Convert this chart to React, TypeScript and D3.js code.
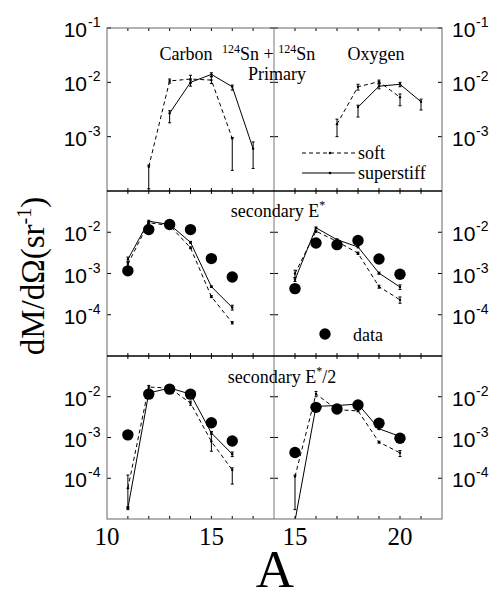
import React from 'react';
import * as d3 from 'd3';

// [A, value, errLow, errHigh]
const primCarbonSoft = [[12, 2.8e-4, 1.1e-4, 3.0e-4], [13, 1.06e-2, 0.97e-2, 1.15e-2], [14, 1.15e-2, 0.97e-2, 1.35e-2], [15, 1.1e-2, 0.95e-2, 1.27e-2], [16, 9.3e-4, 2.4e-4, 9.6e-4]];
const primCarbonStiff = [[13, 2.7e-3, 1.8e-3, 3.0e-3], [14, 1.0e-2, 0.85e-2, 1.1e-2], [15, 1.4e-2, 1.27e-2, 1.5e-2], [16, 8.3e-3, 7.2e-3, 8.9e-3], [17, 6.0e-4, 2.6e-4, 8.0e-4]];
const primOxySoft = [[17, 1.7e-3, 1.0e-3, 2.1e-3], [18, 8.3e-3, 7.2e-3, 9.2e-3], [19, 1.03e-2, 0.95e-2, 1.1e-2], [20, 5.3e-3, 3.7e-3, 6.1e-3]];
const primOxyStiff = [[18, 3.5e-3, 2.3e-3, 3.8e-3], [19, 8.5e-3, 7.6e-3, 9.3e-3], [20, 9.2e-3, 8.3e-3, 1.0e-2], [21, 4.4e-3, 3.1e-3, 4.9e-3]];

const secCarbonSoft = [[11, 1.7e-3, 1.5e-3, 1.9e-3], [12, 1.7e-2, 1.6e-2, 1.8e-2], [13, 1.46e-2, 1.4e-2, 1.52e-2], [14, 4.2e-3, 4.0e-3, 4.4e-3], [15, 2.75e-4, 2.6e-4, 2.9e-4], [16, 6.4e-5, 6.0e-5, 6.8e-5]];
const secCarbonStiff = [[11, 2.2e-3, 1.9e-3, 2.5e-3], [12, 1.85e-2, 1.75e-2, 1.95e-2], [13, 1.54e-2, 1.48e-2, 1.6e-2], [14, 5.7e-3, 5.4e-3, 6.0e-3], [15, 4.8e-4, 4.6e-4, 5.0e-4], [16, 1.5e-4, 1.3e-4, 1.7e-4]];
const secOxySoft = [[15, 1.0e-3, 0.8e-3, 1.2e-3], [16, 1.06e-2, 1.0e-2, 1.12e-2], [17, 6.0e-3, 5.7e-3, 6.3e-3], [18, 3.1e-3, 2.9e-3, 3.3e-3], [19, 4.8e-4, 4.4e-4, 5.2e-4], [20, 2.3e-4, 1.9e-4, 2.7e-4]];
const secOxyStiff = [[15, 7.1e-4, 6.4e-4, 7.8e-4], [16, 1.28e-2, 1.22e-2, 1.34e-2], [17, 6.6e-3, 6.3e-3, 6.9e-3], [18, 4.4e-3, 4.2e-3, 4.6e-3], [19, 1.02e-3, 0.96e-3, 1.08e-3], [20, 4.7e-4, 4.1e-4, 5.3e-4]];

const halfCarbonSoft = [[11, 5.7e-5, 1.9e-5, 1.2e-4], [12, 1.73e-2, 1.55e-2, 1.9e-2], [13, 1.63e-2, 1.55e-2, 1.7e-2], [14, 7.0e-3, 6.2e-3, 7.8e-3], [15, 8.0e-4, 4.6e-4, 1.4e-3], [16, 1.6e-4, 7.2e-5, 1.8e-4]];
const halfCarbonStiff = [[11, 1.84e-5, 1.7e-5, 2.0e-5], [12, 1.23e-2, 1.17e-2, 1.29e-2], [13, 1.64e-2, 1.56e-2, 1.72e-2], [14, 1.16e-2, 1.1e-2, 1.22e-2], [15, 1.29e-3, 1.2e-3, 1.38e-3], [16, 3.9e-4, 3.4e-4, 4.4e-4]];
const halfOxySoft = [[15, 1.1e-4, 1.7e-5, 1.2e-4], [16, 1.17e-2, 1.0e-2, 1.35e-2], [17, 4.8e-3, 4.6e-3, 5.0e-3], [18, 4.5e-3, 4.3e-3, 4.7e-3], [19, 7.7e-4, 7.3e-4, 8.1e-4], [20, 4.2e-4, 3.4e-4, 4.8e-4]];
const halfOxyStiff = [[15, 9.0e-6, 9.0e-6, 9.0e-6], [16, 5.8e-3, 5.5e-3, 6.1e-3], [17, 6.1e-3, 5.8e-3, 6.4e-3], [18, 6.6e-3, 6.3e-3, 6.9e-3], [19, 1.64e-3, 1.56e-3, 1.72e-3], [20, 1.06e-3, 1.0e-3, 1.12e-3]];

const dataCarbon = [[11, 1.16e-3], [12, 1.16e-2], [13, 1.54e-2], [14, 1.16e-2], [15, 2.3e-3], [16, 8.2e-4]];
const dataOxy = [[15, 4.3e-4], [16, 5.5e-3], [17, 5.0e-3], [18, 6.3e-3], [19, 2.24e-3], [20, 9.6e-4]];

const colDomains = [[10, 18], [14, 22]];
const rowDomains = [[1e-4, 1e-1], [1e-5, 1e-1], [1e-5, 1e-1]];
const rowTickExps = [[-1, -2, -3], [-2, -3, -4], [-2, -3, -4]];
const xTickLabels = [[10, 15], [15, 20]];

const L = 107, M = 274, R = 442;
const rowEdges = [[28, 191], [191, 356], [356, 519]];

const serif = '"Liberation Serif", "Times New Roman", serif';
const sans = '"Liberation Sans", Arial, sans-serif';

const panels = [
  { row: 0, col: 0, soft: primCarbonSoft, stiff: primCarbonStiff, data: null },
  { row: 0, col: 1, soft: primOxySoft, stiff: primOxyStiff, data: null },
  { row: 1, col: 0, soft: secCarbonSoft, stiff: secCarbonStiff, data: dataCarbon },
  { row: 1, col: 1, soft: secOxySoft, stiff: secOxyStiff, data: dataOxy },
  { row: 2, col: 0, soft: halfCarbonSoft, stiff: halfCarbonStiff, data: dataCarbon },
  { row: 2, col: 1, soft: halfOxySoft, stiff: halfOxyStiff, data: dataOxy },
];

const xScale = (col) => d3.scaleLinear().domain(colDomains[col]).range(col === 0 ? [L, M] : [M, R]);
const yScale = (row) => d3.scaleLog().domain(rowDomains[row]).range([rowEdges[row][1], rowEdges[row][0]]);

function Series({ pts, x, y, dashed }) {
  const line = d3.line().x((d) => x(d[0])).y((d) => y(d[1]));
  return (
    <g>
      <path d={line(pts)} fill="none" stroke="#000" strokeWidth={1} strokeDasharray={dashed ? '4,3' : null} />
      {pts.map((d, i) => (
        <g key={i}>
          <line x1={x(d[0])} x2={x(d[0])} y1={y(d[2])} y2={y(d[3])} stroke="#000" strokeWidth={1} />
          <line x1={x(d[0]) - 1.5} x2={x(d[0]) + 1.5} y1={y(d[2])} y2={y(d[2])} stroke="#000" />
          <line x1={x(d[0]) - 1.5} x2={x(d[0]) + 1.5} y1={y(d[3])} y2={y(d[3])} stroke="#000" />
          <circle cx={x(d[0])} cy={y(d[1])} r={1.2} fill="#000" />
        </g>
      ))}
    </g>
  );
}

function Panel({ p }) {
  const x = xScale(p.col);
  const y = yScale(p.row);
  const [x0, x1] = x.range();
  const [yb, yt] = y.range();
  const id = `clip${p.row}${p.col}`;
  return (
    <g>
      <clipPath id={id}>
        <rect x={x0} y={yt} width={x1 - x0} height={yb - yt} />
      </clipPath>
      <g clipPath={`url(#${id})`}>
        <Series pts={p.soft} x={x} y={y} dashed />
        <Series pts={p.stiff} x={x} y={y} dashed={false} />
        {p.data && p.data.map((d, i) => <circle key={i} cx={x(d[0])} cy={y(d[1])} r={5.7} fill="#000" />)}
      </g>
      {d3.range(colDomains[p.col][0] + 1, colDomains[p.col][1]).map((t) => (
        <g key={t}>
          <line x1={x(t)} x2={x(t)} y1={yt} y2={yt + 3} stroke="#000" />
          <line x1={x(t)} x2={x(t)} y1={yb} y2={yb - 3} stroke="#000" />
        </g>
      ))}
      {rowTickExps[p.row].map((e) => (
        <g key={e}>
          <line x1={x0} x2={x0 + 4} y1={y(10 ** e)} y2={y(10 ** e)} stroke="#000" />
          <line x1={x1} x2={x1 - 4} y1={y(10 ** e)} y2={y(10 ** e)} stroke="#000" />
        </g>
      ))}
    </g>
  );
}

function YLabels({ row }) {
  const y = yScale(row);
  return (
    <g fontFamily={sans}>
      {rowTickExps[row].map((e) => (
        <g key={e}>
          <text x={87} y={y(10 ** e) + 9} fontSize={21} textAnchor="end">10</text>
          <text x={88} y={y(10 ** e) - 1} fontSize={14}>{`-${-e}`}</text>
          <text x={452} y={y(10 ** e) + 9} fontSize={21}>10</text>
          <text x={476} y={y(10 ** e) - 1} fontSize={14}>{`-${-e}`}</text>
        </g>
      ))}
    </g>
  );
}

export default function App() {
  const W = 490, H = 591;
  return (
    <svg width={W} height={H} style={{ position: 'absolute', left: 0, top: 0, background: '#fff' }}>
      <rect x={0} y={0} width={W} height={H} fill="#fff" />
      {panels.map((p) => <Panel key={`${p.row}${p.col}`} p={p} />)}
      <rect x={L} y={28} width={R - L} height={519 - 28} fill="none" stroke="#666" strokeWidth={1} />
      <line x1={M} x2={M} y1={28} y2={519} stroke="#777" strokeWidth={1} />
      <line x1={L} x2={R} y1={191} y2={191} stroke="#000" strokeWidth={1.5} />
      <line x1={L} x2={R} y1={356} y2={356} stroke="#000" strokeWidth={1.5} />
      {[0, 1, 2].map((r) => <YLabels key={r} row={r} />)}

      {[0, 1].map((c) =>
        xTickLabels[c].map((t) => (
          <text key={`${c}${t}`} x={xScale(c)(t)} y={545} fontSize={25} fontFamily={serif} textAnchor="middle">{t}</text>
        ))
      )}
      <text x={275} y={587} fontSize={53} fontFamily={serif} textAnchor="middle">A</text>
      <text transform="translate(44,276) rotate(-90)" fontSize={33} fontFamily={serif} textAnchor="middle">
        dM/dΩ(sr<tspan fontSize={20} dy={-13}>-1</tspan><tspan dy={13}>)</tspan>
      </text>

      <g fontFamily={serif} fontSize={18}>
        <text x={186} y={60} textAnchor="middle">Carbon</text>
        <text x={222} y={60}>
          <tspan fontSize={12} dy={-7}>124</tspan><tspan dy={7}>Sn + </tspan><tspan fontSize={12} dy={-7}>124</tspan><tspan dy={7}>Sn</tspan>
        </text>
        <text x={277} y={80} textAnchor="middle">Primary</text>
        <text x={376} y={60} textAnchor="middle">Oxygen</text>
        <line x1={302} x2={355} y1={153} y2={153} stroke="#000" strokeDasharray="4,3" />
        <circle cx={330} cy={153} r={1.3} fill="#000" />
        <text x={358} y={159}>soft</text>
        <line x1={302} x2={355} y1={173} y2={173} stroke="#000" />
        <circle cx={330} cy={173} r={1.3} fill="#000" />
        <text x={358} y={179}>superstiff</text>
        <text x={278} y={217} textAnchor="middle">
          secondary E<tspan fontSize={12} dy={-8}>*</tspan>
        </text>
        <circle cx={325} cy={334} r={5.7} fill="#000" />
        <text x={353} y={341}>data</text>
        <text x={282} y={383} textAnchor="middle">
          secondary E<tspan fontSize={12} dy={-8}>*</tspan><tspan dy={8}>/2</tspan>
        </text>
      </g>
    </svg>
  );
}
